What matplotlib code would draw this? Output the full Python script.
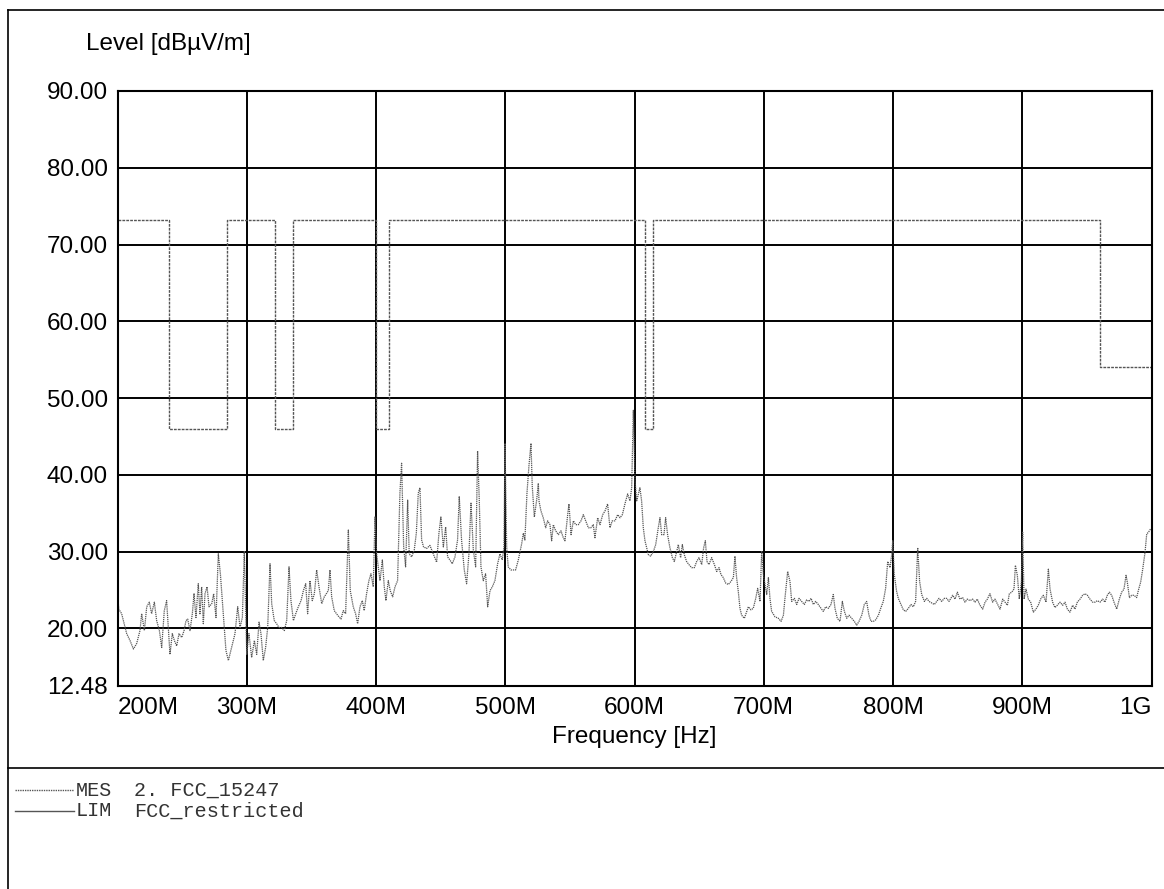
import matplotlib
matplotlib.use("Agg")
import matplotlib.pyplot as plt
from matplotlib.lines import Line2D

plt.rcParams['font.family'] = ['Liberation Sans', 'DejaVu Sans']

mes_freq = [
    200.0, 201.0, 203.2, 207.1, 209.7, 212.3, 214.8, 217.4, 218.7, 220.8,
    222.6, 224.6, 226.4, 228.5, 230.3, 232.4, 234.2, 236.2, 238.0, 239.3,
    240.6, 242.4, 244.0, 245.8, 247.6, 249.7, 251.5, 253.0, 254.3, 256.1,
    257.9, 259.2, 260.7, 262.5, 263.8, 265.1, 266.4, 267.7, 269.3, 270.8,
    272.9, 274.4, 276.2, 278.0, 279.6, 281.1, 282.1, 283.9, 285.8, 288.3,
    290.9, 293.0, 294.8, 296.6, 298.1, 300.0, 301.7, 303.8, 305.9, 307.7,
    309.5, 311.0, 312.8, 314.6, 316.2, 318.0, 319.3, 321.3, 323.1, 324.9,
    327.0, 329.1, 330.9, 332.7, 334.2, 336.1, 337.9, 339.9, 342.0, 343.8,
    345.6, 347.1, 348.9, 350.7, 352.3, 354.1, 355.9, 358.0, 360.0, 363.1,
    364.4, 365.7, 367.7, 370.3, 372.9, 374.7, 376.5, 378.6, 380.1, 382.4,
    384.2, 385.8, 387.6, 389.4, 390.9, 392.7, 394.5, 396.1, 397.9, 399.2,
    400.5, 401.8, 403.1, 404.9, 406.4, 407.7, 409.5, 411.0, 412.9, 414.7,
    416.7, 418.5, 419.8, 421.4, 422.9, 424.5, 425.7, 427.6, 429.6, 431.2,
    432.7, 434.0, 435.3, 436.8, 439.2, 441.7, 444.3, 446.9, 448.7, 450.2,
    452.1, 453.9, 455.4, 457.2, 459.0, 461.1, 463.1, 464.4, 466.2, 468.3,
    470.1, 471.9, 473.5, 475.3, 477.1, 478.6, 479.9, 481.2, 483.0, 484.8,
    486.4, 488.2, 490.0, 492.0, 494.1, 495.9, 497.7, 499.0, 499.8, 501.1,
    502.3, 504.4, 506.2, 508.0, 510.1, 512.7, 514.0, 515.2, 516.8, 518.3,
    519.9, 520.9, 522.5, 524.3, 525.6, 526.1, 527.6, 529.4, 531.3, 532.8,
    534.6, 535.9, 537.2, 539.0, 541.1, 543.1, 544.9, 546.2, 548.3, 549.3,
    550.9, 552.7, 554.5, 556.5, 558.6, 560.4, 562.2, 564.3, 566.3, 568.1,
    569.4, 571.5, 573.3, 575.4, 577.2, 579.2, 581.0, 582.8, 584.9, 587.0,
    588.8, 590.6, 592.6, 594.7, 596.5, 597.8, 599.1, 600.4, 601.7, 603.0,
    604.2, 605.5, 606.8, 608.1, 609.4, 610.7, 612.5, 614.6, 616.4, 618.4,
    619.7, 621.0, 622.8, 624.1, 625.6, 627.4, 629.3, 630.8, 632.6, 633.9,
    635.7, 637.0, 638.5, 640.3, 642.1, 644.2, 646.3, 648.1, 649.9, 652.0,
    653.5, 654.8, 656.1, 657.6, 659.7, 661.8, 663.6, 665.4, 666.9, 668.7,
    670.5, 672.6, 674.6, 676.5, 677.7, 679.0, 680.3, 681.6, 682.9, 685.0,
    688.1, 690.1, 691.9, 693.8, 695.3, 697.1, 698.4, 699.7, 701.0, 702.3,
    703.6, 704.8, 706.1, 708.7, 711.3, 713.4, 715.2, 716.4, 718.5, 720.3,
    721.6, 723.7, 725.5, 727.3, 729.3, 731.4, 733.2, 735.0, 736.6, 738.4,
    740.2, 742.2, 744.3, 746.1, 747.9, 750.0, 752.0, 753.8, 755.1, 756.9,
    759.0, 760.8, 762.4, 764.2, 766.0, 768.0, 770.1, 771.9, 773.7, 775.8,
    777.8, 779.6, 781.4, 783.0, 784.8, 786.6, 788.7, 790.5, 792.5, 794.3,
    795.9, 797.7, 799.0, 799.8, 801.0, 802.8, 804.1, 806.2, 808.0, 809.8,
    811.9, 813.9, 815.7, 817.5, 819.1, 820.6, 822.2, 824.3, 826.1, 827.9,
    829.9, 832.0, 833.8, 835.6, 837.7, 839.7, 841.5, 843.3, 846.2, 848.0,
    849.8, 851.8, 853.9, 855.7, 857.5, 859.6, 861.6, 863.4, 865.2, 867.3,
    869.4, 871.2, 873.0, 875.0, 877.1, 878.9, 880.7, 882.8, 884.9, 886.7,
    888.5, 890.0, 891.8, 893.6, 894.7, 896.2, 897.7, 899.3, 900.3, 901.4,
    902.9, 904.7, 906.5, 908.6, 910.6, 912.4, 914.2, 916.3, 918.4, 920.2,
    921.5, 923.5, 925.3, 927.1, 929.2, 931.3, 933.1, 934.9, 936.9, 939.0,
    940.8, 942.6, 944.7, 946.7, 948.6, 950.4, 952.4, 954.5, 956.3, 958.1,
    960.2, 962.2, 964.0, 965.8, 967.4, 969.2, 971.0, 973.1, 975.1, 976.9,
    978.7, 980.3, 981.3, 982.9, 984.7, 986.5, 988.5, 990.1, 991.6, 993.2,
    995.0, 996.3, 997.6, 999.5,
]
mes_level = [
    24.5, 22.5, 21.9, 19.3, 18.4, 17.3, 18.0, 19.7, 21.9, 19.7,
    22.8, 23.4, 21.9, 23.4, 21.0, 19.7, 17.5, 22.3, 23.6, 20.1,
    16.6, 19.3, 18.4, 17.7, 19.3, 18.8, 19.7, 21.0, 21.2, 19.7,
    21.9, 24.5, 21.4, 25.8, 21.9, 25.4, 20.6, 24.5, 25.4, 22.8,
    23.2, 24.5, 21.4, 29.7, 27.1, 23.6, 21.4, 17.1, 15.8, 17.5,
    19.3, 22.8, 20.1, 21.4, 30.0, 16.6, 19.3, 16.2, 18.4, 16.6,
    20.8, 19.3, 15.8, 17.5, 20.1, 28.4, 23.2, 21.0, 20.6, 20.1,
    20.1, 19.7, 21.0, 28.0, 23.6, 21.0, 21.9, 22.8, 23.6, 24.9,
    25.8, 21.9, 26.2, 23.6, 24.5, 27.6, 25.4, 23.2, 24.1, 24.9,
    27.6, 24.1, 22.3, 21.7, 21.2, 22.3, 21.9, 32.8, 24.9, 22.8,
    21.9, 20.6, 22.8, 23.6, 22.3, 24.5, 26.2, 27.1, 25.4, 34.5,
    29.7, 28.0, 26.2, 28.9, 25.4, 23.6, 26.2, 24.9, 24.1, 25.4,
    26.2, 37.6, 41.5, 30.6, 28.0, 36.7, 29.7, 29.3, 30.2, 32.4,
    37.6, 38.3, 31.5, 30.6, 30.4, 30.8, 29.7, 28.6, 32.4, 34.5,
    30.6, 33.2, 29.3, 28.9, 28.4, 29.3, 31.5, 37.2, 31.5, 27.6,
    25.8, 29.7, 36.3, 30.2, 28.0, 43.1, 36.7, 28.0, 26.2, 27.1,
    22.8, 24.9, 25.4, 26.2, 28.4, 29.7, 28.9, 30.6, 44.1, 30.6,
    28.0, 27.6, 27.6, 27.6, 28.9, 31.0, 32.4, 31.5, 37.6, 41.1,
    44.1, 38.5, 34.5, 36.7, 38.9, 36.6, 35.3, 34.4, 33.1, 34.0,
    33.5, 31.4, 33.5, 32.7, 32.2, 32.7, 31.8, 31.4, 34.8, 36.2,
    32.2, 34.0, 33.5, 33.5, 34.0, 34.8, 34.0, 33.1, 33.1, 33.5,
    31.8, 34.4, 33.5, 34.8, 35.3, 36.2, 33.1, 34.0, 34.0, 34.8,
    34.4, 34.8, 36.2, 37.5, 36.6, 38.3, 48.4, 39.2, 36.6, 37.5,
    38.3, 36.6, 33.1, 31.4, 30.5, 29.6, 29.4, 30.0, 30.9, 33.1,
    34.4, 32.2, 32.2, 34.4, 32.2, 30.5, 29.2, 28.7, 30.0, 30.9,
    29.2, 30.9, 29.6, 28.7, 28.3, 27.9, 27.9, 28.7, 29.2, 28.3,
    30.5, 31.4, 28.7, 28.3, 29.2, 28.3, 27.4, 27.9, 27.0, 26.6,
    25.9, 25.7, 26.1, 26.6, 29.4, 26.6, 24.8, 22.6, 21.7, 21.3,
    22.8, 22.4, 22.6, 23.9, 25.2, 23.5, 30.0, 27.0, 25.7, 24.4,
    26.6, 23.9, 22.2, 21.5, 21.3, 20.9, 21.7, 23.9, 27.4, 26.1,
    23.5, 23.9, 23.1, 23.9, 23.5, 23.1, 23.7, 23.5, 23.9, 23.1,
    23.5, 23.1, 22.6, 22.2, 22.8, 22.6, 23.1, 24.4, 22.6, 21.3,
    20.9, 23.5, 22.2, 21.3, 21.7, 21.3, 20.9, 20.4, 20.9, 21.7,
    23.1, 23.5, 21.7, 20.9, 20.9, 21.1, 21.7, 22.6, 23.5, 25.2,
    28.7, 27.9, 29.6, 31.4, 27.0, 24.8, 23.9, 23.1, 22.4, 22.2,
    22.6, 23.1, 22.8, 23.5, 30.5, 26.1, 24.4, 23.5, 23.9, 23.5,
    23.3, 23.1, 23.5, 23.9, 23.5, 23.9, 23.9, 23.5, 24.3, 23.8,
    24.7, 23.8, 24.0, 23.4, 23.8, 23.6, 23.8, 23.4, 23.8, 23.0,
    22.5, 23.4, 23.8, 24.5, 23.4, 23.8, 23.2, 22.5, 23.8, 23.4,
    23.0, 24.5, 24.7, 25.1, 28.2, 26.9, 23.8, 26.0, 32.5, 23.8,
    25.1, 23.8, 23.4, 22.1, 22.5, 23.0, 23.8, 24.3, 23.4, 27.7,
    25.1, 23.4, 22.7, 23.0, 23.4, 23.0, 23.4, 22.5, 22.1, 23.0,
    22.5, 23.4, 23.8, 24.3, 24.5, 24.3, 23.8, 23.4, 23.4, 23.6,
    23.4, 23.8, 23.4, 24.3, 24.7, 24.3, 23.4, 22.5, 23.8, 24.7,
    25.1, 26.9, 26.0, 24.0, 24.3, 24.3, 24.0, 25.1, 26.0, 27.7,
    29.9, 32.3, 32.5, 33.0,
]

# FCC limit line, step changes at the restricted band edges
lim_freq = [200, 240, 285, 322, 335.4, 399.9, 410, 608, 614, 960, 1000]
lim_level = [73.2, 46.0, 73.2, 46.0, 73.2, 46.0, 73.2, 46.0, 73.2, 54.0, 54.0]

x_ticks = [200, 300, 400, 500, 600, 700, 800, 900, 1000]
x_labels = ['200M', '300M', '400M', '500M', '600M', '700M', '800M', '900M', '1G']
y_ticks = [12.48, 20, 30, 40, 50, 60, 70, 80, 90]
y_labels = ['12.48', '20.00', '30.00', '40.00', '50.00', '60.00', '70.00', '80.00', '90.00']

W, H = 1164, 889
fig = plt.figure(figsize=(W / 100, H / 100), dpi=100)
ax = fig.add_axes([117.5 / W, 1 - 686 / H, 1034 / W, 595 / H])

ax.plot(mes_freq, mes_level, color='#555555', lw=0.9, linestyle=(0, (1, 0.7)))
ax.step(lim_freq, lim_level, where='post', color='#555555', lw=1.0,
        linestyle=(0, (2, 0.8)))

ax.set_xlim(200, 1000)
ax.set_ylim(12.48, 90)
ax.set_xticks(x_ticks)
ax.set_xticklabels(x_labels, fontsize=17.5)
ax.set_yticks(y_ticks)
ax.set_yticklabels(y_labels, fontsize=17.5)
ax.tick_params(axis='y', length=0, pad=7)
ax.tick_params(axis='x', length=0, pad=8)
xl = ax.get_xticklabels()
xl[0].set_horizontalalignment('left')
xl[-1].set_horizontalalignment('right')
ax.grid(True, color='black', lw=1.4)
for s in ax.spines.values():
    s.set_linewidth(1.5)
ax.set_xlabel('Frequency [Hz]', fontsize=17.5, labelpad=5)

fig.text(86 / W, 1 - 44 / H, 'Level [dBµV/m]', fontsize=17.5, va='center', ha='left')

# frame around the sheet
fig.add_artist(Line2D([8 / W, 1], [1 - 10 / H, 1 - 10 / H], color='black', lw=1.2))
fig.add_artist(Line2D([8 / W, 8 / W], [0, 1 - 10 / H], color='black', lw=1.2))
fig.add_artist(Line2D([8 / W, 1], [1 - 768 / H, 1 - 768 / H], color='black', lw=1.2))

# legend block under the chart
rows = [(790, 'MES', '2. FCC_15247', (0, (1, 0.7))), (811, 'LIM', 'FCC_restricted', '-')]
for y, tag, name, ls in rows:
    fy = 1 - y / H
    fig.add_artist(Line2D([15 / W, 74 / W], [fy, fy], color='#555555', lw=1.0, linestyle=ls))
    fig.text(76 / W, fy, tag, family='Liberation Mono', fontsize=14.5, va='center', color='#333333')
    fig.text(134 / W, fy, name, family='Liberation Mono', fontsize=14.5, va='center', color='#333333')

fig.savefig('out.png', dpi=100, facecolor='white')
